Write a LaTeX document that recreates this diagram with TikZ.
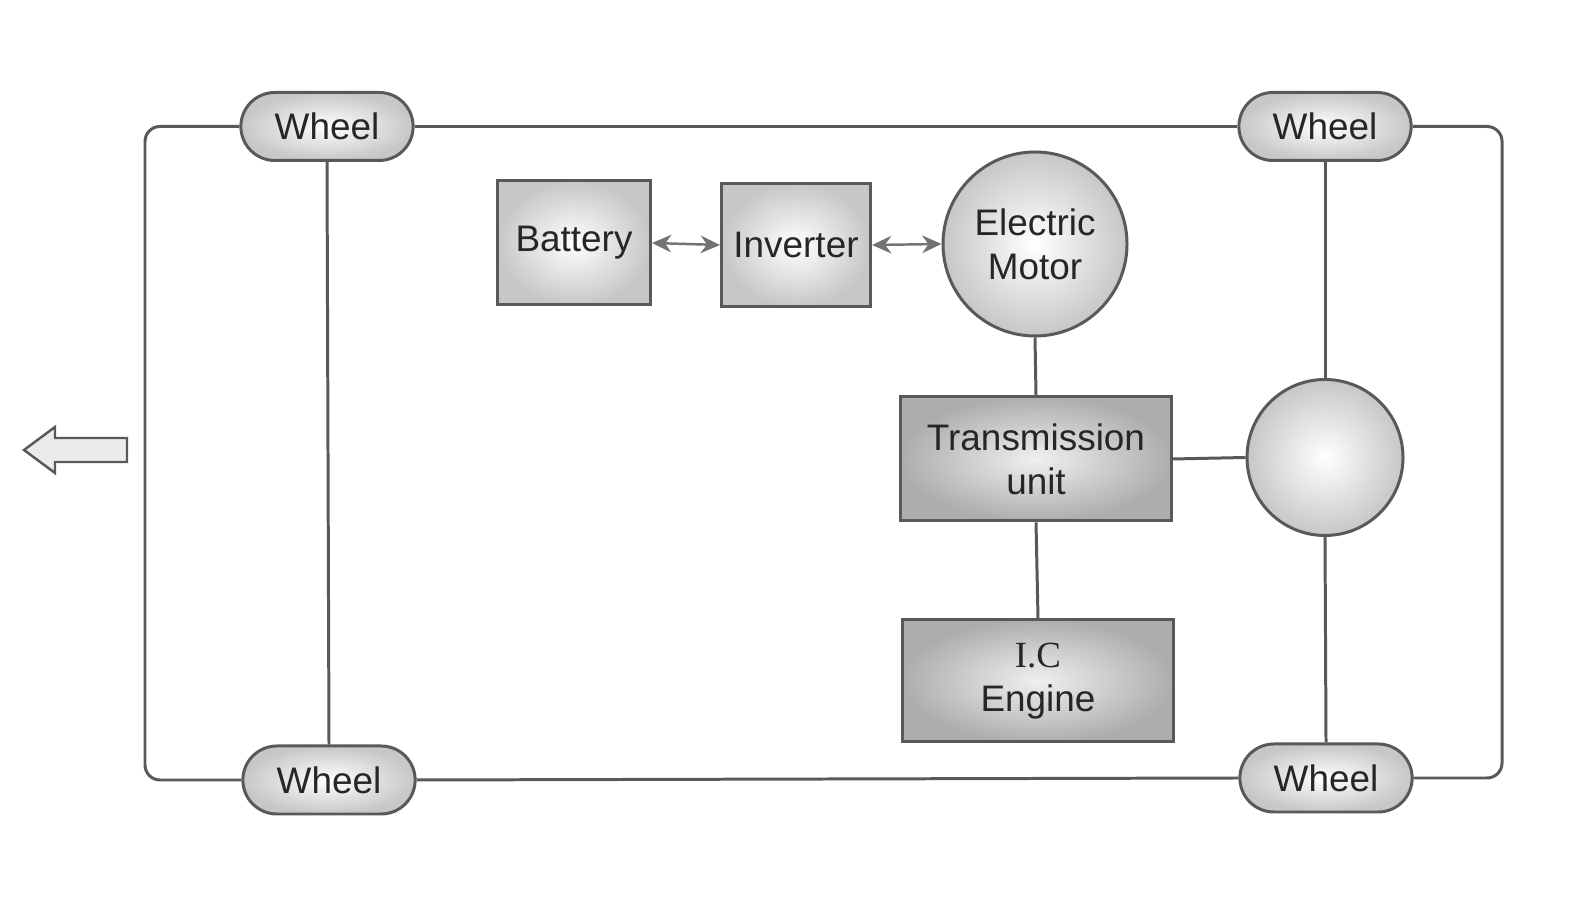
\documentclass[tikz,border=0pt]{standalone}
\usepackage{fontspec}
\setmainfont{Liberation Sans}
\newfontfamily\icfont{Liberation Serif}
\usetikzlibrary{shapes.misc,arrows.meta}

\begin{document}
\begin{tikzpicture}[
    every node/.style={font=\fontsize{21}{25}\selectfont, align=center, text=black!85},
    part/.style={draw=black!65, line width=1.7pt, inner color=white, outer color=black!22},
    darkpart/.style={draw=black!65, line width=1.7pt, inner color=black!6, outer color=black!32},
    wheel/.style={part, rounded rectangle, minimum width=3.68cm, minimum height=1.36cm},
    link/.style={draw=black!65, line width=1.7pt},
    dual/.style={draw=black!55, line width=1.4pt, {Stealth[length=11pt,width=10pt]}-{Stealth[length=11pt,width=10pt]}}]
    \useasboundingbox(0,0)rectangle(31.88,18.4);

    % wheels
    \node[wheel](wtl)at(6.54,15.87){Wheel};
    \node[wheel](wtr)at(26.5,15.87){Wheel};
    \node[wheel](wbl)at(6.58,2.8){Wheel};
    \node[wheel](wbr)at(26.52,2.84){Wheel};

    % drive train
    \node[part, minimum width=3.06cm, minimum height=2.48cm](bat)at(11.48,13.54){Battery};
    \node[part, minimum width=2.98cm, minimum height=2.46cm](inv)at(15.92,13.5){Inverter};
    \node[part, circle, minimum size=3.68cm, inner sep=0pt](mot)at(20.7,13.52){Electric\\Motor};
    \node[darkpart, minimum width=5.42cm, minimum height=2.48cm](trans)at(20.72,9.22){Transmission\\unit};
    \node[darkpart, minimum width=5.42cm, minimum height=2.44cm](eng)at(20.76,4.78){{\icfont I.C}\\Engine};
    \node[part, circle, minimum size=3.12cm](diff)at(26.5,9.25){};

    % frame
    \draw[link, rounded corners=0.3cm](wtl.west)--(2.9,15.87)--(2.9,2.8)--(wbl.west);
    \draw[link, rounded corners=0.3cm](wtr.east)--(30.04,15.87)--(30.04,2.84)--(wbr.east);
    \draw[link](wtl.east)--(wtr.west);
    \draw[link](wbl.east)--(wbr.west);
    \draw[link](wtl.south)--(wbl.north);
    \draw[link](wtr.south)--(diff.north);
    \draw[link](diff.south)--(wbr.north);

    \draw[link](mot.south)--(trans.north);
    \draw[link](trans.south)--(eng.north);
    \draw[link](trans.east)--(diff.west);
    \draw[dual](bat.east)--(inv.west);
    \draw[dual](inv.east)--(mot.west);

    % direction of travel
    \draw[draw=black!65, line width=1.4pt, fill=black!8](0.48,9.4)--(1.1,9.86)--(1.1,9.64)--(2.54,9.64)
        --(2.54,9.16)--(1.1,9.16)--(1.1,8.94)--cycle;
\end{tikzpicture}
\end{document}
